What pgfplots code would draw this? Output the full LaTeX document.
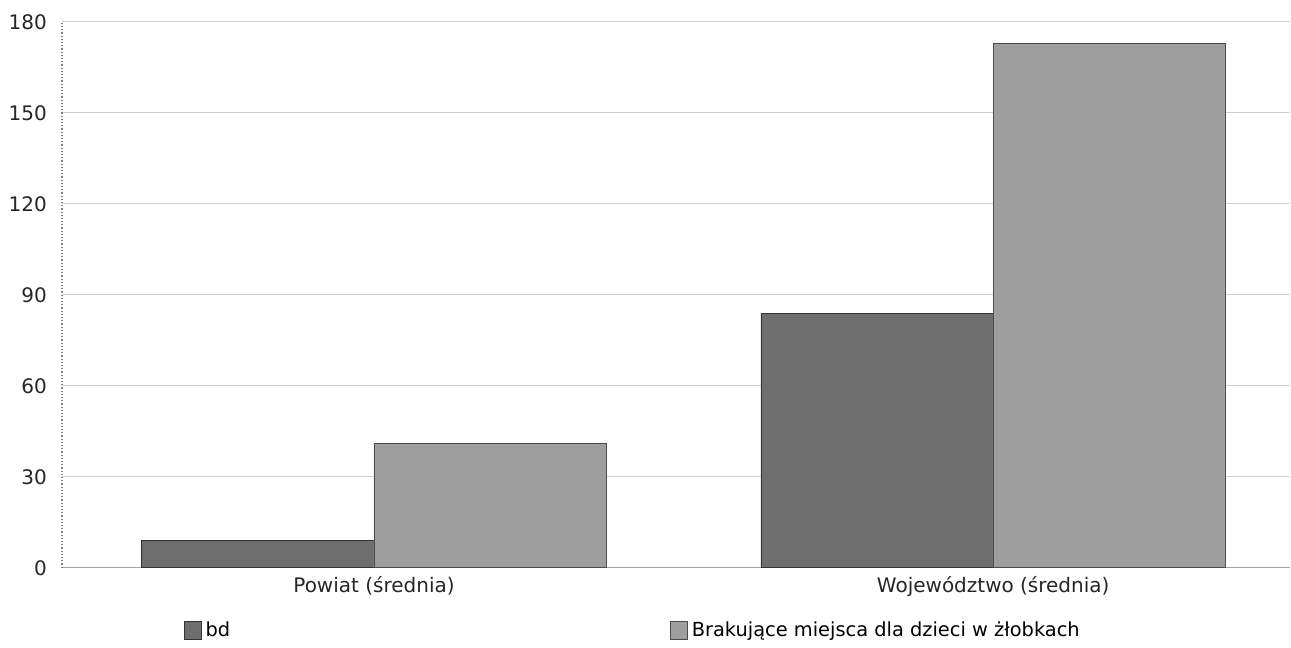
\documentclass[border=0pt]{standalone}
\usepackage{pgfplots}
\pgfplotsset{compat=1.18}
\usepackage{fontspec}
\setmainfont{DejaVu Sans}
\definecolor{bdFill}{HTML}{6E6E6E}
\definecolor{brFill}{HTML}{9E9E9E}
\definecolor{gridc}{HTML}{CFCFCF}
\begin{document}
\begin{tikzpicture}
\begin{axis}[
  scale only axis,
  width=614.5pt, height=273pt,
  xmin=-0.504, xmax=1.48,
  ymin=0, ymax=180,
  ytick={0,30,...,180},
  xtick={0,1},
  xticklabels={Powiat (średnia), Województwo (średnia)},
  major tick length=0pt,
  axis x line*=bottom, axis y line*=left,
  x axis line style={gridc!80!black, line width=0.6pt, -},
  y axis line style={gray, densely dotted, line width=0.6pt, -},
  ymajorgrids,
  major grid style={gridc, line width=0.5pt},
  tick label style={font=\fontsize{10}{12}\selectfont, text=black!85},
  /pgf/number format/assume math mode=true,
  yticklabel style={xshift=-4pt},
  xticklabel style={yshift=-1pt},
  clip=false,
  legend columns=2,
  legend style={draw=none, fill=none, at={(rel axis cs:0.094,-0.115)}, anchor=west,
    font=\fontsize{9.7}{12}\selectfont,
    /tikz/every even column/.append style={column sep=218pt}},
  legend cell align=left,
  legend image code/.code={\path[#1] (0pt,-4.5pt) rectangle (8.5pt,4.5pt);},
]
\addplot[ybar, bar width=0.375, bar shift=-0.1875, draw=black!80, line width=0.4pt,
  fill=bdFill]
  coordinates {(0,9) (1,84)};
\addlegendentry{bd}
\addplot[ybar, bar width=0.375, bar shift=0.1875, draw=black!70, line width=0.4pt,
  fill=brFill]
  coordinates {(0,41) (1,173)};
\addlegendentry{Brakujące miejsca dla dzieci w żłobkach}
\path (rel axis cs:-0.0504,-0.141) rectangle (rel axis cs:1,1.0403);
\end{axis}
\end{tikzpicture}
\end{document}
